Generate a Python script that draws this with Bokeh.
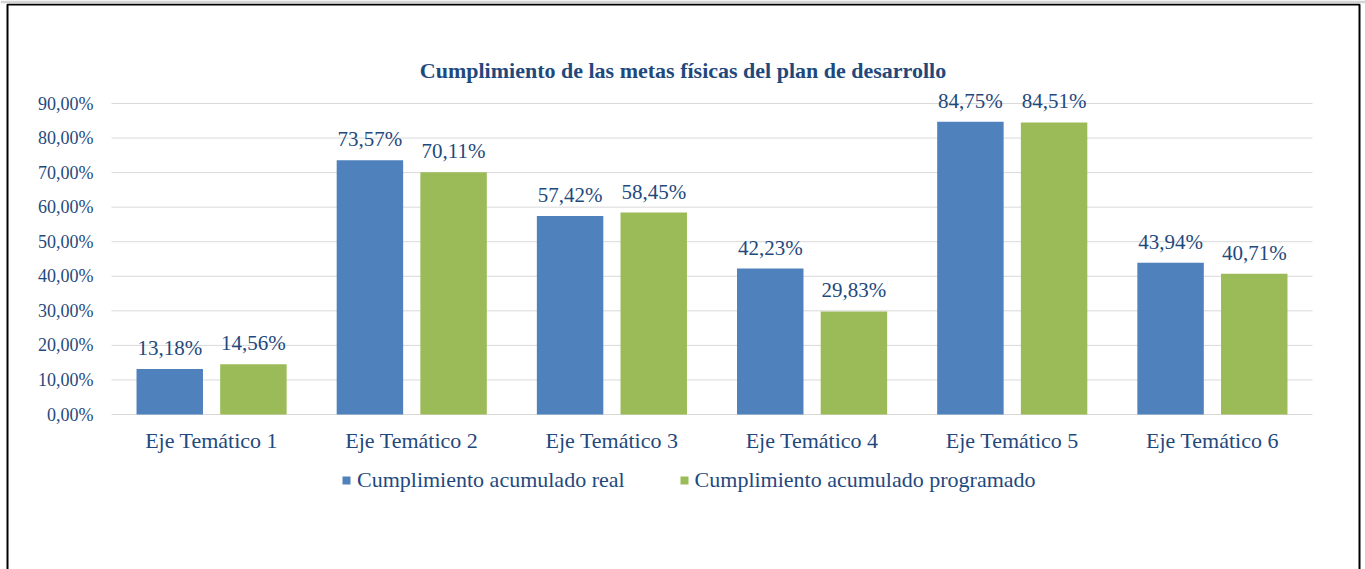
from bokeh.plotting import figure
from bokeh.models import (ColumnDataSource, Range1d, LabelSet, Label,
                          Legend, LegendItem, BoxAnnotation)
from bokeh.core.properties import value
from bokeh.embed import file_html
from bokeh.resources import INLINE

# ---- data ----
categories = ["Eje Temático 1", "Eje Temático 2", "Eje Temático 3",
              "Eje Temático 4", "Eje Temático 5", "Eje Temático 6"]
real = [13.18, 73.57, 57.42, 42.23, 84.75, 43.94]
programado = [14.56, 70.11, 58.45, 29.83, 84.51, 40.71]
y_ticks = [0, 10, 20, 30, 40, 50, 60, 70, 80, 90]
series_names = ["Cumplimiento acumulado real", "Cumplimiento acumulado programado"]
title_text = "Cumplimiento de las metas físicas del plan de desarrollo"

def fmt(v):
    return f"{v:.2f}".replace(".", ",") + "%"

# ---- layout constants (pixels) ----
W, H = 1365, 569
TOP_STRIP = 3
PLOT_L, PLOT_R = 111, 1312      # plot-area left/right
Y0_PX, Y90_PX = 414, 103        # pixel rows of 0% and 90%
ppx = (PLOT_R - PLOT_L) / len(categories)
ppu = (Y0_PX - Y90_PX) / 90.0

def xd(px):   # pixel column -> data x
    return (px - PLOT_L) / ppx

def yd(py):   # pixel row -> data y
    return (Y0_PX - py) / ppu

FONT = "Liberation Serif"
TXT = "#1F497D"
BLUE = "#4F81BD"
GREEN = "#9BBB59"
GRID = "#D9D9D9"

centers = [i + 0.5 for i in range(len(categories))]
off = 0.209
bw = 0.332

src = ColumnDataSource(dict(
    cat=categories,
    xc=centers,
    xr=[c - off for c in centers],
    xp=[c + off for c in centers],
    zero=[0] * len(categories),
    real=real,
    prog=programado,
    real_lbl=[fmt(v) for v in real],
    prog_lbl=[fmt(v) for v in programado],
))

tick_src = ColumnDataSource(dict(
    y=y_ticks,
    x0=[0] * len(y_ticks),
    x1=[len(categories)] * len(y_ticks),
    lbl=[fmt(t) for t in y_ticks],
))

p = figure(width=W, height=H,
           x_range=Range1d(xd(0), xd(W)),
           y_range=Range1d(yd(H), yd(TOP_STRIP)),
           x_axis_location=None, y_axis_location=None,
           output_backend="svg", toolbar_location=None,
           min_border_left=0, min_border_right=0, min_border_top=TOP_STRIP, min_border_bottom=0)
p.outline_line_color = None
p.background_fill_color = "white"
p.border_fill_color = "#D4D4D4"
p.grid.visible = False

# gridlines
p.segment(x0="x0", x1="x1", y0="y", y1="y", source=tick_src, line_color=GRID, line_width=1)

# bars
r1 = p.vbar(x="xr", top="real", width=bw, source=src, fill_color=BLUE, line_color=None)
r2 = p.vbar(x="xp", top="prog", width=bw, source=src, fill_color=GREEN, line_color=None)

# value labels
for xcol, ycol, lcol in [("xr", "real", "real_lbl"), ("xp", "prog", "prog_lbl")]:
    p.add_layout(LabelSet(x=xcol, y=ycol, text=lcol, source=src,
                          text_align="center", text_baseline="alphabetic", y_offset=14,
                          text_font=value(FONT), text_font_size=value("21px"), text_color=TXT))

# category labels
p.add_layout(LabelSet(x="xc", y="zero", text="cat", source=src,
                      text_align="center", text_baseline="alphabetic", y_offset=-33,
                      text_font=value(FONT), text_font_size=value("22px"), text_color=TXT))

# y tick labels
p.add_layout(LabelSet(x="x0", y="y", text="lbl", source=tick_src,
                      text_align="right", text_baseline="middle", x_offset=-18,
                      text_font=value(FONT), text_font_size=value("18px"), text_color=TXT))

# title
p.add_layout(Label(x=xd(W / 2), y=yd(70), text=title_text, text_align="center",
                   text_baseline="middle", text_font=FONT, text_font_size="22px",
                   text_font_style="bold", text_color=TXT))

# legend
legend = Legend(items=[LegendItem(label=series_names[0], renderers=[r1]),
                       LegendItem(label=series_names[1], renderers=[r2])],
                orientation="horizontal", location=(341, H - 481 - 12),
                glyph_width=10, glyph_height=10, label_standoff=6, spacing=54,
                padding=0, margin=0, border_line_color=None, background_fill_alpha=0,
                label_text_font=FONT, label_text_font_size="22px", label_text_color=TXT)
p.add_layout(legend, "center")

# outer border (left, top, right)
p.add_layout(BoxAnnotation(left=xd(7), right=xd(1359), top=yd(4), bottom=yd(H + 20),
                           fill_alpha=0, line_color="black", line_alpha=1.0, line_width=2,
                           level="overlay"))

open("out.html", "w").write(file_html(p, INLINE))
